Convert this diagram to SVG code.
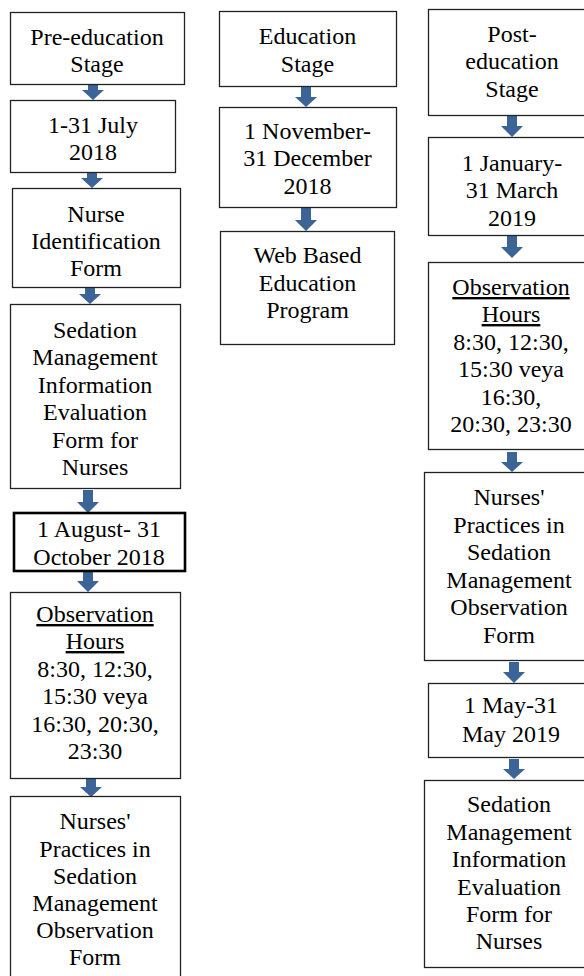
<svg xmlns="http://www.w3.org/2000/svg" width="584" height="976" viewBox="0 0 584 976">
<style>
.box{fill:#fff;stroke:#222;stroke-width:1.3}
.thick{fill:#fff;stroke:#000;stroke-width:2.6}
.u{text-decoration:underline}
.arr{fill:#3d6497}
</style>
<rect width="584" height="976" fill="#fff"/>
<g id="connectors">
<polygon class="arr" points="88,84 98,84 98,90 104,90 93,100 82,90 88,90"/>
<polygon class="arr" points="87,172 97,172 97,178 103,178 92,188 81,178 87,178"/>
<polygon class="arr" points="85,287 95,287 95,294 101,294 90,304 79,294 85,294"/>
<polygon class="arr" points="83,490 93,490 93,502 99,502 88,513 77,502 83,502"/>
<polygon class="arr" points="83,571 93,571 93,581 99,581 88,592 77,581 83,581"/>
<polygon class="arr" points="86,778 96,778 96,787 102,787 91,797 80,787 86,787"/>
<polygon class="arr" points="301,86 311,86 311,97 317,97 306,107 295,97 301,97"/>
<polygon class="arr" points="301,208 311,208 311,220 317,220 306,231 295,220 301,220"/>
<polygon class="arr" points="507,115 517,115 517,126 523,126 512,137 501,126 507,126"/>
<polygon class="arr" points="507,236 517,236 517,247 523,247 512,258 501,247 507,247"/>
<polygon class="arr" points="507,452 517,452 517,462 523,462 512,472 501,462 507,462"/>
<polygon class="arr" points="509,662 519,662 519,672 525,672 514,683 503,672 509,672"/>
<polygon class="arr" points="509,759 519,759 519,769 525,769 514,779 503,769 509,769"/>
</g>
<g font-family="Liberation Serif, DejaVu Serif, serif" font-size="24" fill="#000" text-anchor="middle">
<g id="pre-stage">
<rect class="box" x="10.5" y="12.5" width="174" height="72"/>
<text x="97" y="45">Pre-education</text>
<text x="97" y="72">Stage</text>
</g>
<g id="july">
<rect class="box" x="10.5" y="100.5" width="165" height="72"/>
<text x="93" y="133">1-31 July</text>
<text x="93" y="160">2018</text>
</g>
<g id="nurse-id">
<rect class="box" x="12.5" y="188.5" width="168" height="99"/>
<text x="96" y="222">Nurse</text>
<text x="96" y="249">Identification</text>
<text x="96" y="276">Form</text>
</g>
<g id="sedation-form-1">
<rect class="box" x="10.5" y="304.5" width="170" height="184"/>
<text x="95" y="338">Sedation</text>
<text x="95" y="365">Management</text>
<text x="95" y="393">Information</text>
<text x="95" y="420">Evaluation</text>
<text x="95" y="448">Form for</text>
<text x="95" y="475">Nurses</text>
</g>
<g id="aug-oct">
<rect class="thick" x="14" y="513" width="171" height="58"/>
<text x="99" y="537">1 August- 31</text>
<text x="99" y="565">October 2018</text>
</g>
<g id="obs-hours-1">
<rect class="box" x="10.5" y="592.5" width="170" height="186"/>
<text x="95" y="622"><tspan class="u">Observation</tspan></text>
<text x="95" y="649"><tspan class="u">Hours</tspan></text>
<text x="95" y="677">8:30, 12:30,</text>
<text x="95" y="704">15:30 veya</text>
<text x="95" y="732">16:30, 20:30,</text>
<text x="95" y="759">23:30</text>
</g>
<g id="practices-1">
<rect class="box" x="10.5" y="796.5" width="170" height="200"/>
<text x="95" y="829">Nurses'</text>
<text x="95" y="857">Practices in</text>
<text x="95" y="884">Sedation</text>
<text x="95" y="911">Management</text>
<text x="95" y="938">Observation</text>
<text x="95" y="965">Form</text>
</g>
<g id="edu-stage">
<rect class="box" x="219.5" y="11.5" width="177" height="75"/>
<text x="307.5" y="44">Education</text>
<text x="307.5" y="72">Stage</text>
</g>
<g id="nov-dec">
<rect class="box" x="219.5" y="107.5" width="177" height="100"/>
<text x="307.5" y="139">1 November-</text>
<text x="307.5" y="166">31 December</text>
<text x="307.5" y="194">2018</text>
</g>
<g id="web-program">
<rect class="box" x="220.5" y="231.5" width="174" height="113"/>
<text x="307.5" y="263">Web Based</text>
<text x="307.5" y="291">Education</text>
<text x="307.5" y="318">Program</text>
</g>
<g id="post-stage">
<rect class="box" x="428.5" y="9.5" width="170" height="106"/>
<text x="512" y="42">Post-</text>
<text x="512" y="69">education</text>
<text x="512" y="97">Stage</text>
</g>
<g id="jan-mar">
<rect class="box" x="428.5" y="137.5" width="170" height="98"/>
<text x="512" y="171">1 January-</text>
<text x="512" y="198">31 March</text>
<text x="512" y="226">2019</text>
</g>
<g id="obs-hours-2">
<rect class="box" x="428.5" y="262.5" width="170" height="187"/>
<text x="511" y="295"><tspan class="u">Observation</tspan></text>
<text x="511" y="322"><tspan class="u">Hours</tspan></text>
<text x="511" y="350">8:30, 12:30,</text>
<text x="511" y="377">15:30 veya</text>
<text x="511" y="405">16:30,</text>
<text x="511" y="432">20:30, 23:30</text>
</g>
<g id="practices-2">
<rect class="box" x="424.5" y="472.5" width="174" height="188"/>
<text x="509" y="505">Nurses'</text>
<text x="509" y="533">Practices in</text>
<text x="509" y="560">Sedation</text>
<text x="509" y="588">Management</text>
<text x="509" y="615">Observation</text>
<text x="509" y="643">Form</text>
</g>
<g id="may">
<rect class="box" x="428.5" y="683.5" width="170" height="74"/>
<text x="511" y="713">1 May-31</text>
<text x="511" y="742">May 2019</text>
</g>
<g id="sedation-form-2">
<rect class="box" x="424.5" y="780.5" width="174" height="187"/>
<text x="509" y="812">Sedation</text>
<text x="509" y="840">Management</text>
<text x="509" y="867">Information</text>
<text x="509" y="895">Evaluation</text>
<text x="509" y="922">Form for</text>
<text x="509" y="949">Nurses</text>
</g>
</g>
</svg>
